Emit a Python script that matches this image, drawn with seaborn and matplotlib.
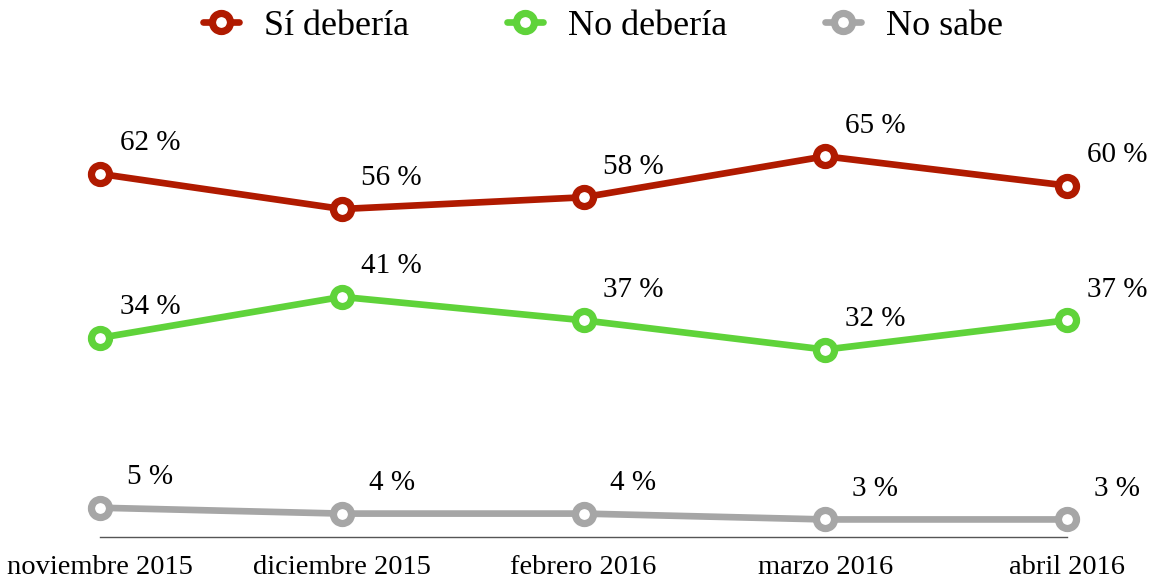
import pandas as pd
import seaborn as sns
import matplotlib.pyplot as plt

meses = ['noviembre 2015', 'diciembre 2015', 'febrero 2016', 'marzo 2016', 'abril 2016']
si_deberia = [62, 56, 58, 65, 60]
no_deberia = [34, 41, 37, 32, 37]
no_sabe = [5, 4, 4, 3, 3]

series = ['Sí debería', 'No debería', 'No sabe']
colores = ['#B01A00', '#5FD33A', '#A6A6A6']

# long-form table for seaborn
filas = []
for nombre, valores in zip(series, [si_deberia, no_deberia, no_sabe]):
    for i, v in enumerate(valores):
        filas.append({'pos': i, 'mes': meses[i], 'valor': v, 'serie': nombre})
df = pd.DataFrame(filas)

sns.set_style('white')
plt.rcParams['font.family'] = ['Liberation Serif', 'DejaVu Serif']
plt.rcParams['text.color'] = 'black'

fig = plt.figure(figsize=(11.54, 5.81), dpi=100)
ax = fig.add_axes([0.0867, 0.0757, 0.8379, 0.7057])

for nombre, col in zip(series, colores):
    sub = df[df['serie'] == nombre]
    sns.lineplot(data=sub, x='pos', y='valor', color=col, label=nombre,
                 marker='o', markersize=13, markerfacecolor='white',
                 markeredgecolor=col, markeredgewidth=5.2, linewidth=4.8,
                 clip_on=False, ax=ax)

# value labels
for _, r in df.iterrows():
    ax.annotate(f"{r['valor']} %", (r['pos'], r['valor']), xytext=(36, 22),
                textcoords='offset points', ha='center', va='center',
                fontsize=21, color='black')

ax.set_xlim(0, len(meses) - 1)
ax.set_ylim(0, 70)
ax.set_xticks(range(len(meses)))
ax.set_xticklabels(meses, fontsize=20.5, color='black')
ax.set_yticks([])
ax.set_xlabel('')
ax.set_ylabel('')
ax.tick_params(axis='x', length=0, pad=13)
for s in ['top', 'left', 'right']:
    ax.spines[s].set_visible(False)
ax.spines['bottom'].set_color('#555555')
ax.spines['bottom'].set_linewidth(1)

handles, labels = ax.get_legend_handles_labels()
ax.get_legend().remove()
fig.legend(handles, labels, loc='upper center', bbox_to_anchor=(0.5225, 1.04), ncol=3,
           frameon=False, fontsize=26, handlelength=1.0, columnspacing=2.7,
           handletextpad=0.7, labelcolor='black')

fig.savefig('out.png', dpi=100)
